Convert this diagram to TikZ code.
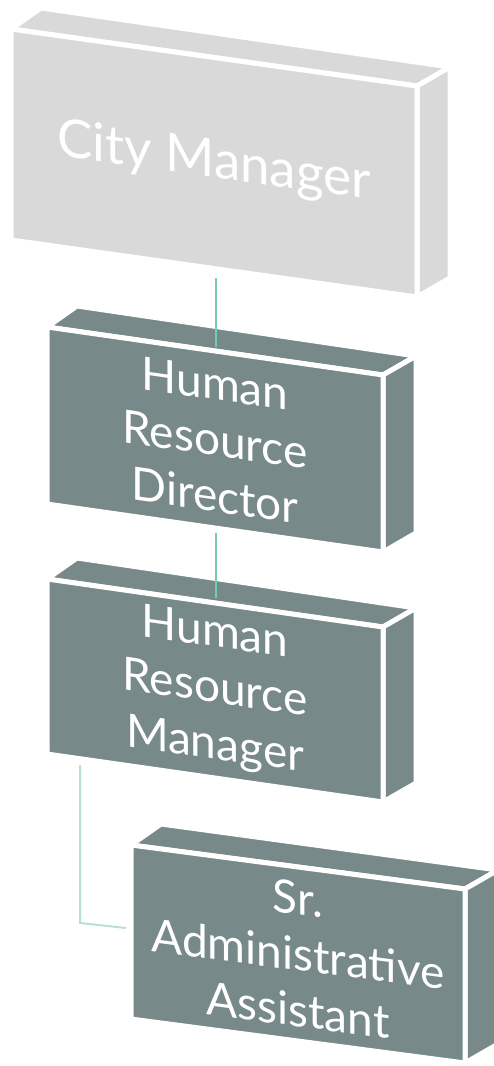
\documentclass[tikz,border=0pt]{standalone}
\usepackage{fontspec}
\setmainfont{Lato}
\usepackage{tikz}

\definecolor{slate}{RGB}{120,137,137}
\definecolor{paleslate}{RGB}{217,217,217}
\definecolor{linkteal}{RGB}{118,204,178}
\definecolor{linkpale}{RGB}{186,224,212}

\tikzset{
  face/.style={fill=#1, draw=white, line width=5pt, line join=round},
  boxtext/.style={text=white, align=center, inner sep=0pt},
  link/.style={draw=#1, line width=2pt},
}

% #1 name, #2 x, #3 y, #4 width, #5 height, #6 slant, #7 colour, #8 text, #9 size
\newcommand{\orgbox}[9]{%
  \path[face=#7] (#2,#3) -- (#2+30,#3-21) -- (#2+#4+33,#3+#6-19) -- (#2+#4,#3+#6) -- cycle;
  \path[face=#7] (#2+#4,#3+#6) -- (#2+#4+33,#3+#6-19) -- (#2+#4+33,#3+#6+#5-19) -- (#2+#4,#3+#6+#5) -- cycle;
  \path[face=#7] (#2,#3) -- (#2+#4,#3+#6) -- (#2+#4,#3+#6+#5) -- (#2,#3+#5) -- cycle;
  \node[boxtext, yslant={-#6/#4}, font=\fontsize{#9}{56}\selectfont] (#1) at (#2+#4/2,#3+#6/2+#5/2) {#8};
}

\begin{document}
\begin{tikzpicture}[x=1pt,y=-1pt]
  \useasboundingbox (0,0) rectangle (494,1066);

  % draw boxes
  \orgbox{city}{11}{29}{406}{211}{57}{paleslate}{City Manager}{53}
  \orgbox{hrd}{47}{327}{336}{177}{48}{slate}{Human\\Resource\\Director}{46}
  \orgbox{hrm}{47}{579}{336}{175}{48}{slate}{Human\\Resource\\Manager}{46}
  \orgbox{sra}{131}{845}{334}{174}{44}{slate}{Sr.\\Administrative\\Assistant}{46}

  % draw connectors
  \coordinate (city-b) at (216,278);
  \coordinate (hrd-t) at (216,347);
  \coordinate (hrd-b) at (216,533);
  \coordinate (hrm-t) at (216,598);
  \coordinate (hrm-b) at (80,765);
  \coordinate (bend) at (80,923);
  \coordinate (sra-l) at (126,928);
  \draw[link=linkteal] (city-b) -- (hrd-t);
  \draw[link=linkteal] (hrd-b) -- (hrm-t);
  \draw[link=linkpale] (hrm-b) -- (bend) -- (sra-l);
\end{tikzpicture}
\end{document}
